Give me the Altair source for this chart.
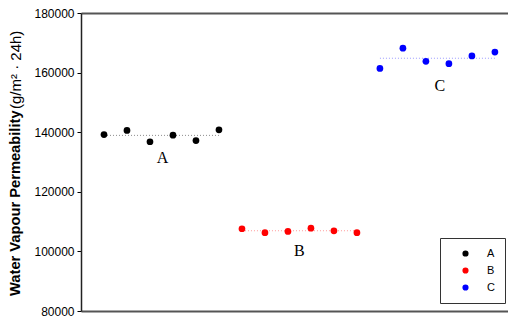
import altair as alt
import pandas as pd

groups = ["A", "B", "C"]
vals_A = [139200, 140600, 136800, 139000, 137200, 140800]
vals_B = [107600, 106300, 106700, 107800, 106900, 106300]
vals_C = [161400, 168200, 163800, 163000, 165600, 166900]
point_colors = ["#000000", "#FF0000", "#0000FF"]
line_colors = ["#8C8C8C", "#FF9A9A", "#9A9AFF"]
label_x = [3.55, 9.5, 15.6]
label_y = [131500, 100200, 155600]
y_ticks = [80000, 100000, 120000, 140000, 160000, 180000]

rows = []
idx = 1
for g, vals, lc in zip(groups, [vals_A, vals_B, vals_C], line_colors):
    for v in vals:
        rows.append({"idx": idx, "val": v, "g": g, "lc": lc})
        idx += 1
df = pd.DataFrame(rows)
df_lab = pd.DataFrame({"g": groups, "lx": label_x, "ly": label_y})
df_one = pd.DataFrame({"k": [0]})

W, H = 427, 298
xs = alt.Scale(domain=[0, 18.57], nice=False, zero=False)
ys = alt.Scale(domain=[80000, 180000], nice=False, zero=False)

yaxis = alt.Axis(values=y_ticks, format="d", title=None, grid=False, tickSize=4,
                 tickColor="#000", labelFontSize=12, labelFont="Arial", labelColor="#000",
                 domainColor="#222", domainWidth=1.5, labelPadding=3)
xaxis_bottom = alt.Axis(labels=False, ticks=False, title=None, grid=False,
                        domainColor="#555", domainWidth=2)
xaxis_top = alt.Axis(orient="top", labels=False, ticks=False, title=None, grid=False,
                     domainColor="#555", domainWidth=2)

points = alt.Chart(df).mark_point(filled=True, size=45, opacity=1, shape="circle").encode(
    x=alt.X("idx:Q", scale=xs, axis=xaxis_bottom),
    y=alt.Y("val:Q", scale=ys, axis=yaxis),
    color=alt.Color("g:N", scale=alt.Scale(domain=groups, range=point_colors),
                    legend=alt.Legend(title=None, orient="none", legendX=359, legendY=225,
                                      strokeColor="#333", fillColor="white", padding=10,
                                      symbolOffset=10, labelOffset=16, labelFontSize=11,
                                      labelFont="Arial", labelColor="#000",
                                      symbolSize=38, symbolType="circle", rowPadding=5,
                                      symbolStrokeWidth=0)),
)

rules = alt.Chart(df).mark_rule(strokeDash=[1, 2], strokeWidth=1).encode(
    x=alt.X("min(idx):Q", scale=xs, axis=xaxis_top),
    x2="max(idx):Q",
    y=alt.Y("mean(val):Q", scale=ys, axis=yaxis),
    detail="g:N",
    color=alt.Color("lc:N", scale=None),
)

labels = alt.Chart(df_lab).mark_text(font="Times New Roman", fontSize=16, color="#000",
                                     baseline="middle", align="center").encode(
    x=alt.X("lx:Q", scale=xs, axis=None),
    y=alt.Y("ly:Q", scale=ys, axis=yaxis),
    text="g:N",
)

title_bold = alt.Chart(df_one).mark_text(font="Arial", fontWeight="bold", fontSize=14.7,
                                         angle=270, align="left", baseline="middle",
                                         color="#000").encode(
    x=alt.value(-65), y=alt.value(283), text=alt.value("Water Vapour Permeability"))
title_unit = alt.Chart(df_one).mark_text(font="Arial", fontSize=15, angle=270,
                                         align="left", baseline="middle", color="#000").encode(
    x=alt.value(-65), y=alt.value(96), text=alt.value("(g/m\u00b2\u00a0\u00b7\u00a024h)"))

chart = alt.layer(rules, points, labels, title_bold, title_unit).resolve_axis(
    x="independent"
).properties(
    width=W, height=H,
    autosize=alt.AutoSizeParams(type="none"),
    padding={"left": 73, "top": 5, "right": 0, "bottom": 6},
).configure_view(stroke=None)

chart.save("out.html", embed_options={"renderer": "svg", "actions": False})
